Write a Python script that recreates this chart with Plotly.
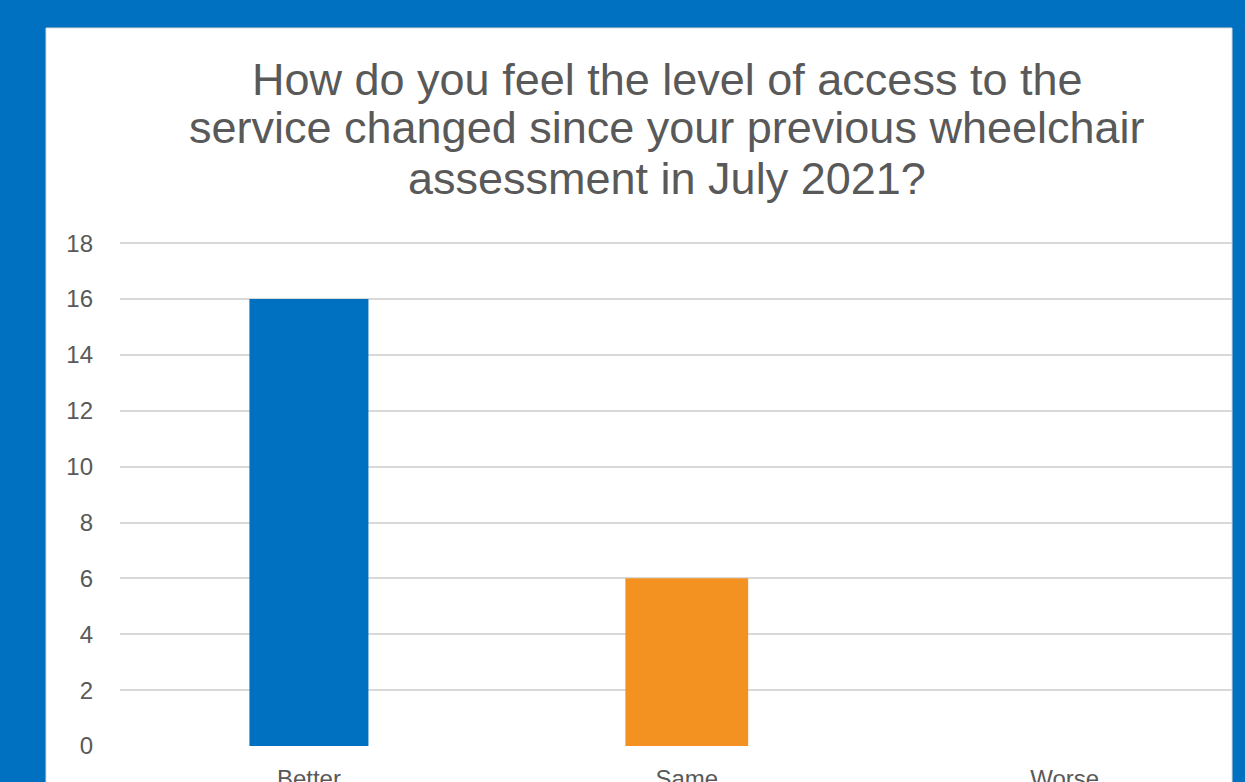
import plotly.graph_objects as go

categories = ["Better", "Same", "Worse"]
counts = [16, 6, 0]
bar_colors = ["#0070C0", "#F39221", "#A5A5A5"]
title_lines = [
    "How do you feel the level of access to the",
    "service changed since your previous wheelchair",
    "assessment in July 2021?",
]
y_ticks = list(range(0, 19, 2))

W, H = 1245, 782
L, R, T, B = 120, 13, 242, 36
plot_w = W - L - R
plot_h = H - T - B
Y_MAX = 18.04

def px_x(px):
    return (px - L) / plot_w

def px_y(py):
    return (H - B - py) / plot_h

fig = go.Figure()
fig.add_trace(go.Bar(
    x=categories, y=counts,
    marker=dict(color=bar_colors, line=dict(width=0)),
    width=[0.315, 0.325, 0.32],
    showlegend=False,
))

font_family = "Arial, Liberation Sans, sans-serif"
title_y_px = [79, 128, 178]
annotations = []
for line, ypx in zip(title_lines, title_y_px):
    annotations.append(dict(
        text=line, xref="paper", yref="paper",
        x=px_x(667), y=px_y(ypx), xanchor="center", yanchor="middle",
        showarrow=False, font=dict(family=font_family, size=45, color="#595959"),
    ))

fig.update_layout(
    width=W, height=H,
    margin=dict(l=L, r=R, t=T, b=B, pad=0, autoexpand=False),
    paper_bgcolor="#0070C0",
    plot_bgcolor="rgba(0,0,0,0)",
    font=dict(family=font_family, color="#595959", size=24),
    annotations=annotations,
    shapes=[dict(
        type="rect", xref="paper", yref="paper", layer="below",
        x0=px_x(46), x1=px_x(1232), y0=px_y(900), y1=px_y(28),
        fillcolor="white", line=dict(color="#D9D9D9", width=1),
    )],
)
fig.update_xaxes(
    range=[-0.5, 2.443], showgrid=False, zeroline=False, showline=False,
    automargin=False,
    ticks="", tickfont=dict(size=24, color="#595959"), ticklabelstandoff=16,
)
fig.update_yaxes(
    range=[0, Y_MAX], tickvals=y_ticks, showgrid=True, gridcolor="#D9D9D9",
    gridwidth=1.6, zeroline=False, showline=False, ticks="", automargin=False,
    tickfont=dict(size=24, color="#595959"), ticklabelstandoff=26,
)

fig.write_html(
    "out.html",
    config={"displayModeBar": False},
    post_script="document.body.style.margin='0';document.body.style.background='#0070C0';",
)
